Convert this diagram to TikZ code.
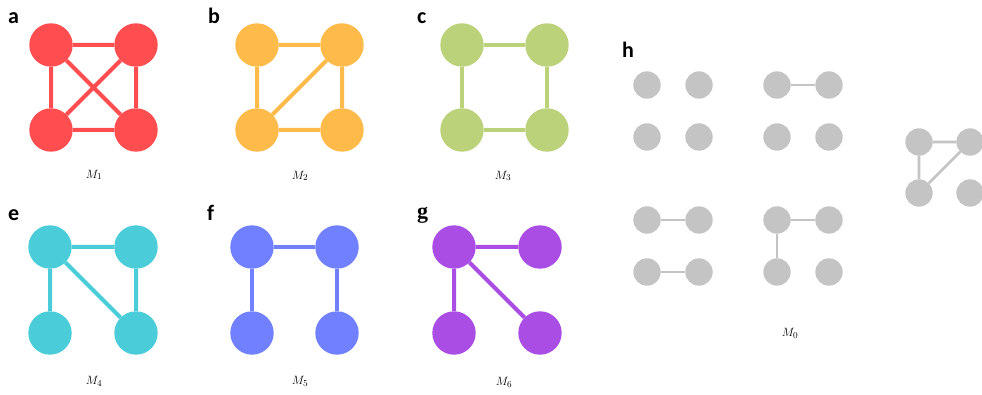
\documentclass[tikz,border=0pt]{standalone}
\usepackage{fontspec}
\newfontfamily\lettfont{Carlito}
\newfontfamily\gfont{Liberation Serif}
\definecolor{cA}{RGB}{255,77,80}
\definecolor{cB}{RGB}{255,187,74}
\definecolor{cC}{RGB}{187,210,122}
\definecolor{cE}{RGB}{74,205,217}
\definecolor{cF}{RGB}{112,128,255}
\definecolor{cG}{RGB}{169,77,228}
\definecolor{cH}{RGB}{196,196,196}
\tikzset{
  dot/.style={circle, fill=#1, draw=none, minimum size=43.4pt, inner sep=0pt},
  gdot/.style={circle, fill=cH, draw=none, minimum size=27.4pt, inner sep=0pt},
  edg/.style={draw=#1, line width=4pt},
  gedg/.style={draw=cH, line width=2.7pt},
  plabel/.style={anchor=base west, inner sep=0pt, font=\lettfont\fontsize{22}{22}\selectfont\bfseries},
  mlabel/.style={inner sep=0pt, font=\fontsize{13}{15}\selectfont},
}
\begin{document}
\begin{tikzpicture}[x=1pt,y=-1pt]
\useasboundingbox (0,0) rectangle (982,395);
% panel a
\node[plabel] (la) at (8,24) {a};
\node[dot=cA] (a1) at (51,45) {};
\node[dot=cA] (a2) at (136,45) {};
\node[dot=cA] (a3) at (51,130) {};
\node[dot=cA] (a4) at (136,130) {};
\draw[edg=cA] (a1)--(a2) (a3)--(a4) (a1)--(a3) (a2)--(a4) (a1)--(a4) (a2)--(a3);
\node[mlabel] (ma) at (94,175) {$M_1$};
% panel b
\node[plabel] (lb) at (208,24) {b};
\node[dot=cB] (b1) at (257,45) {};
\node[dot=cB] (b2) at (342,45) {};
\node[dot=cB] (b3) at (257,130) {};
\node[dot=cB] (b4) at (342,130) {};
\draw[edg=cB] (b1)--(b2) (b3)--(b4) (b1)--(b3) (b2)--(b4) (b3)--(b2);
\node[mlabel] (mb) at (300,176) {$M_2$};
% panel c
\node[plabel] (lc) at (417,24) {c};
\node[dot=cC] (c1) at (462,45) {};
\node[dot=cC] (c2) at (547,45) {};
\node[dot=cC] (c3) at (462,130) {};
\node[dot=cC] (c4) at (547,130) {};
\draw[edg=cC] (c1)--(c2) (c3)--(c4) (c1)--(c3) (c2)--(c4);
\node[mlabel] (mc) at (503,176) {$M_3$};
% panel e
\node[plabel] (le) at (8,221) {e};
\node[dot=cE] (e1) at (50,247) {};
\node[dot=cE] (e2) at (136,247) {};
\node[dot=cE] (e3) at (50,333) {};
\node[dot=cE] (e4) at (136,333) {};
\draw[edg=cE] (e1)--(e2) (e1)--(e3) (e2)--(e4) (e1)--(e4);
\node[mlabel] (me) at (94,381) {$M_4$};
% panel f
\node[plabel] (lf) at (207,221) {f};
\node[dot=cF] (f1) at (252,247) {};
\node[dot=cF] (f2) at (337,247) {};
\node[dot=cF] (f3) at (252,333) {};
\node[dot=cF] (f4) at (337,333) {};
\draw[edg=cF] (f1)--(f2) (f1)--(f3) (f2)--(f4);
\node[mlabel] (mf) at (300,381) {$M_5$};
% panel g
\node[plabel, font=\gfont\fontsize{22}{22}\selectfont\bfseries] (lg) at (417,219) {g};
\node[dot=cG] (g1) at (454,247) {};
\node[dot=cG] (g2) at (540,247) {};
\node[dot=cG] (g3) at (454,333) {};
\node[dot=cG] (g4) at (540,333) {};
\draw[edg=cG] (g1)--(g2) (g1)--(g3) (g1)--(g4);
\node[mlabel] (mg) at (504,382) {$M_6$};
% panel h
\node[plabel] (lh) at (622,58) {h};
\node[gdot] (h11) at (647,85) {};
\node[gdot] (h12) at (699,85) {};
\node[gdot] (h13) at (647,137) {};
\node[gdot] (h14) at (699,137) {};
\node[gdot] (h21) at (777,85) {};
\node[gdot] (h22) at (829,85) {};
\node[gdot] (h23) at (777,137) {};
\node[gdot] (h24) at (829,137) {};
\draw[gedg] (h21)--(h22);
\node[gdot] (h31) at (647,220) {};
\node[gdot] (h32) at (699,220) {};
\node[gdot] (h33) at (647,272) {};
\node[gdot] (h34) at (699,272) {};
\draw[gedg] (h31)--(h32) (h33)--(h34);
\node[gdot] (h41) at (777,220) {};
\node[gdot] (h42) at (829,220) {};
\node[gdot] (h43) at (777,272) {};
\node[gdot] (h44) at (829,272) {};
\draw[gedg] (h41)--(h42) (h41)--(h43);
\node[gdot] (h51) at (919,142) {};
\node[gdot] (h52) at (970,142) {};
\node[gdot] (h53) at (919,193) {};
\node[gdot] (h54) at (970,193) {};
\draw[gedg] (h51)--(h52) (h51)--(h53) (h53)--(h52);
\node[mlabel] (mh) at (790,333) {$M_0$};
\end{tikzpicture}
\end{document}
